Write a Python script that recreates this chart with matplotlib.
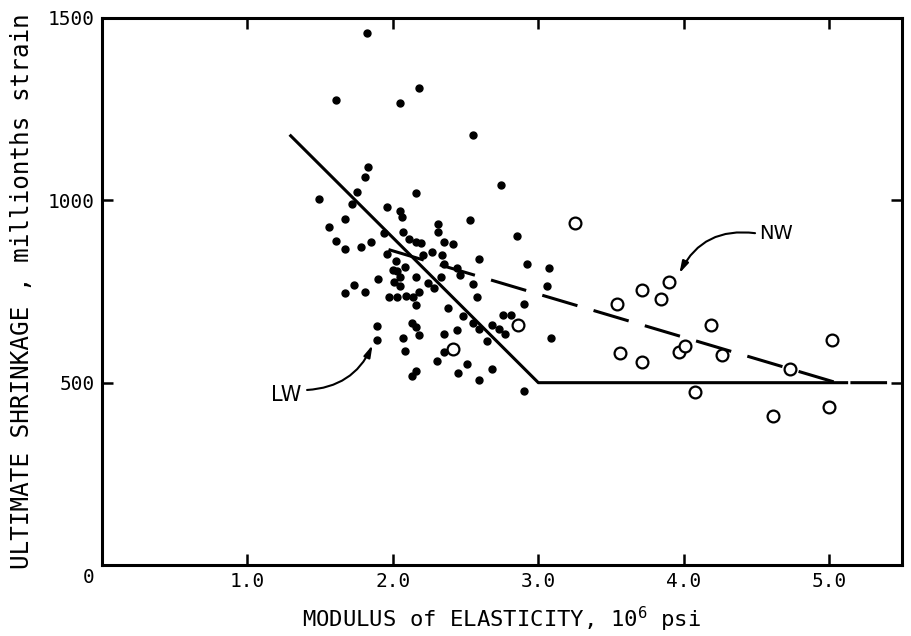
import matplotlib

matplotlib.use("Agg")
import matplotlib.pyplot as plt

# lightweight (LW) concrete, filled dots
lw_modulus = [
    1.82, 1.61, 2.05, 2.18, 2.55, 1.83, 1.81, 1.75, 1.49, 1.72, 2.16, 1.96, 2.05, 2.06, 2.74, 1.67, 2.53,
    1.56, 2.31, 2.31, 1.94, 2.07, 2.11, 2.16, 2.19, 2.35, 2.41, 1.61, 1.67, 1.78, 1.85, 1.96, 2.27, 2.34,
    2.21, 2.02, 2.08, 2.35, 2.44, 2.46, 2.00, 2.03, 1.90, 2.05, 2.16, 2.33, 2.01, 2.24, 2.05, 2.28, 1.73,
    1.67, 1.81, 1.97, 2.03, 2.09, 2.14, 2.18,
    2.16, 2.38, 1.89, 1.89, 2.13, 2.16, 2.07, 2.18, 2.08, 2.35, 2.44, 2.35, 2.30, 2.16, 2.13, 2.45, 2.48,
    2.85, 2.59, 2.92, 3.07, 3.06, 2.55, 2.58, 2.90, 2.76, 2.81, 2.55, 2.68, 2.59, 2.73, 2.77, 2.65, 3.09,
    2.51, 2.68, 2.59, 2.90,
]
lw_shrinkage = [
    1459, 1275, 1267, 1308, 1179, 1091, 1064, 1023, 1004, 990, 1020, 982, 971, 954, 1042, 949, 945,
    927, 935, 913, 911, 913, 894, 886, 883, 886, 880, 888, 866, 872, 886, 853, 858, 850,
    850, 834, 817, 825, 814, 795, 809, 806, 784, 790, 790, 790, 776, 773, 765, 760, 768,
    746, 749, 735, 735, 738, 735, 749,
    713, 705, 655, 617, 663, 653, 622, 631, 587, 633, 644, 584, 559, 532, 518, 526, 683,
    902, 839, 825, 814, 765, 771, 735, 716, 685, 685, 663, 658, 647, 647, 633, 614, 622,
    551, 537, 507, 477,
]

# normal weight (NW) concrete, open circles
nw_modulus = [3.54, 3.71, 3.84, 3.90, 4.19, 3.56, 3.71, 3.97, 4.01, 4.26, 4.08, 4.73, 5.02, 4.61, 5.00,
              3.25, 2.86, 2.41]
nw_shrinkage = [716, 754, 729, 776, 658, 581, 557, 584, 600, 576, 474, 537, 617, 409, 433,
                938, 658, 592]

# fitted lines
lw_line_x = [1.29, 3.0, 5.13]
lw_line_y = [1180, 500, 500]
nw_line_x = [1.97, 5.05, 5.5]
nw_line_y = [865, 500, 500]

x_ticks = [1.0, 2.0, 3.0, 4.0, 5.0]
x_tick_labels = ["1.0", "2.0", "3.0", "4.0", "5.0"]
y_ticks = [500, 1000, 1500]
y_tick_labels = ["500", "1000", "1500"]

MONO = "DejaVu Sans Mono"

fig = plt.figure(figsize=(9.12, 6.36), dpi=100)
ax = fig.add_axes([0.1118, 0.1116, 0.8772, 0.8601])

ax.plot(lw_line_x, lw_line_y, color="black", lw=2.2, solid_capstyle="butt")
ax.plot(nw_line_x, nw_line_y, color="black", lw=2.2, dashes=(12, 5.5))
ax.plot(lw_modulus, lw_shrinkage, "o", color="black", ms=5, mec="black")
ax.plot(nw_modulus, nw_shrinkage, "o", mfc="white", mec="black", mew=1.6, ms=8.5)

arrow = dict(arrowstyle="-|>,head_length=0.7,head_width=0.2", color="black", lw=1.5,
             shrinkA=0, shrinkB=0)
ax.annotate("", xy=(3.97, 800), xytext=(4.49, 910),
            arrowprops=dict(arrow, connectionstyle="arc3,rad=0.35"))
ax.text(4.52, 910, "NW", fontsize=14, ha="left", va="center")
ax.annotate("", xy=(1.86, 603), xytext=(1.41, 480),
            arrowprops=dict(arrow, connectionstyle="arc3,rad=0.3"))
ax.text(1.37, 466, "LW", fontsize=15, ha="right", va="center")

ax.set_xlim(0, 5.5)
ax.set_ylim(0, 1500)
ax.set_xticks(x_ticks)
ax.set_xticklabels(x_tick_labels, family=MONO)
ax.set_yticks(y_ticks)
ax.set_yticklabels(y_tick_labels, family=MONO)
ax.tick_params(direction="in", length=8, width=1.8, labelsize=14, pad=5,
               top=True, right=True)
ax.text(-0.09, -33, "0", fontsize=14, family=MONO, ha="center", va="center")
for spine in ax.spines.values():
    spine.set_linewidth(2.2)

ax.set_xlabel("MODULUS of ELASTICITY, $\\mathregular{10^6}$ psi", fontsize=16, family=MONO,
              labelpad=10)
ax.set_ylabel("ULTIMATE SHRINKAGE , millionths strain", fontsize=17.5, family=MONO,
              labelpad=10)

fig.savefig("out.png", dpi=100, facecolor="white")
